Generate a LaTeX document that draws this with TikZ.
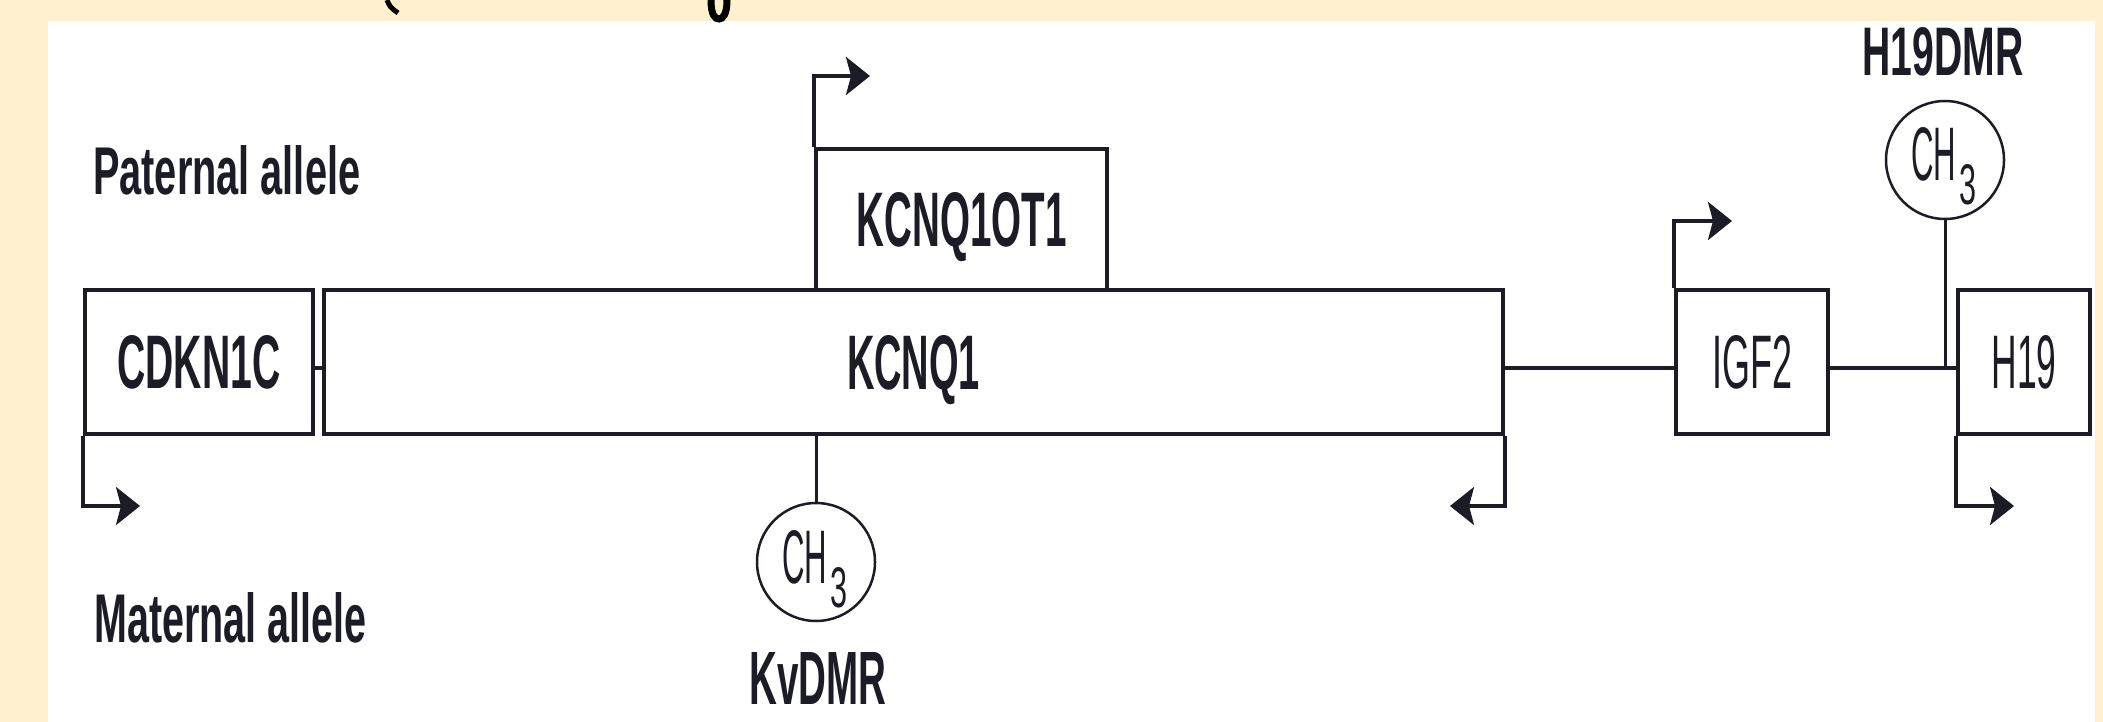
\documentclass[tikz,border=0pt]{standalone}
\usepackage{fontspec}
\setmainfont{Liberation Sans}
\usepackage{graphicx}
\usetikzlibrary{arrows.meta}
\definecolor{cream}{RGB}{255,241,205}
\definecolor{ink}{RGB}{28,28,38}
\newcommand{\fitt}[3]{\resizebox{#1pt}{#2pt}{#3}}
\begin{document}
\begin{tikzpicture}[x=1pt,y=-1pt,line join=miter,
  gene/.style={draw=ink,line width=4pt,rectangle,inner sep=0pt,text=ink,text depth=0pt},
  wire/.style={draw=ink,line width=3.5pt},
  prom/.style={draw=ink,line width=3.5pt,-{Stealth[length=24pt,width=38pt,inset=5pt]}},
  meth/.style={circle,draw=ink,line width=2.5pt,minimum size=118pt,inner sep=0pt},
  lab/.style={inner sep=0pt,text=ink,anchor=base}]
\useasboundingbox (0,0) rectangle (2103,722);
\fill[cream] (0,0) rectangle (2103,722);
\fill[white] (48,21) rectangle (2095,722);
% cut-off title fragments at the top edge
\draw[black,line width=5pt] (387,0) .. controls (390,7) .. (398,13);
\draw[black,line width=7pt] (711,0) .. controls (711,15) and (715,19) .. (719,19) .. controls (723,19) and (727,14) .. (727,0);
% genes
\node[gene,minimum width=228pt,minimum height=144pt,text height=53pt] (cdkn) at (199,362) {\fitt{163}{53}{\bfseries CDKN1C}};
\node[gene,minimum width=1179pt,minimum height=144pt,text height=54pt] (kcnq) at (913.5,362) {\fitt{133}{54}{\bfseries KCNQ1}};
\node[gene,minimum width=291pt,minimum height=141pt,text height=54pt] (ot1) at (961.5,219.5) {\fitt{210}{54}{\bfseries KCNQ1OT1}};
\node[gene,minimum width=152pt,minimum height=144pt,text height=53pt] (igf) at (1752,362) {\fitt{80}{53}{IGF2}};
\node[gene,minimum width=132pt,minimum height=144pt,text height=53pt] (h19) at (2024,362) {\fitt{65}{53}{H19}};
% backbone
\draw[wire] (cdkn.east |- 0,368) -- (kcnq.west |- 0,368);
\draw[wire] (kcnq.east |- 0,368) -- (igf.west |- 0,368);
\draw[wire] (igf.east |- 0,368) -- (h19.west |- 0,368);
% methylation sites
\node[meth] (kvm) at (816,562) {};
\node[lab,anchor=base west] (kvt) at (782,583) {\fitt{45}{53}{CH}\hspace{3pt}\raisebox{-24pt}{\fitt{17}{40}{3}}};
\draw[wire,line width=3pt] (kcnq.south -| kvm) -- (kvm.north);
\node[lab] (kvl) at (818,704) {\fitt{137}{52}{\bfseries KvDMR}};
\node[meth] (hm) at (1945,160) {};
\node[lab,anchor=base west] (hmt) at (1911,181) {\fitt{45}{53}{CH}\hspace{3pt}\raisebox{-24pt}{\fitt{17}{40}{3}}};
\draw[wire,line width=3pt] (hm.south) -- (hm |- 0,368);
\node[lab] (hml) at (1943,76) {\fitt{161}{48}{\bfseries H19DMR}};
% allele labels
\node[lab,anchor=base west] (pat) at (93,195) {\fitt{267}{49}{\bfseries Paternal allele}};
\node[lab,anchor=base west] (mat) at (94,642) {\fitt{272}{50}{\bfseries Maternal allele}};
% promoters
\coordinate (p1) at (870,76);
\coordinate (p2) at (140,506);
\coordinate (p3) at (1450,506);
\coordinate (p4) at (1732,221);
\coordinate (p5) at (2014,506);
\draw[prom] (ot1.north west) |- (p1);
\draw[prom] (cdkn.south west) |- (p2);
\draw[prom] (kcnq.south east) |- (p3);
\draw[prom] (igf.north west) |- (p4);
\draw[prom] (h19.south west) |- (p5);
\end{tikzpicture}
\end{document}
